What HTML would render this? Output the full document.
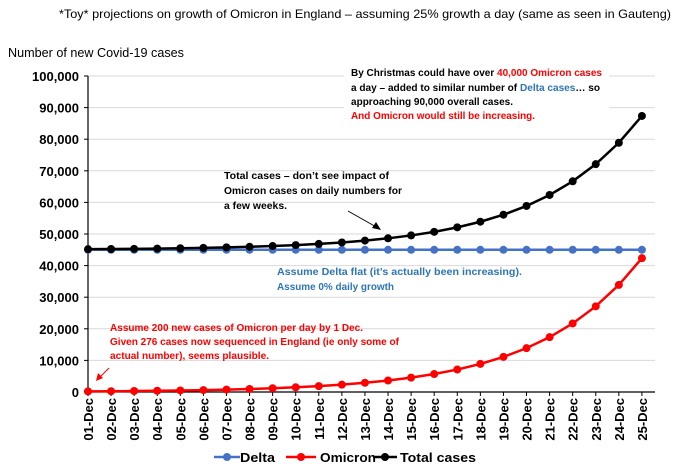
<!DOCTYPE html>
<html><head><meta charset="utf-8"><style>
body{margin:0;background:#fff;width:680px;height:473px;overflow:hidden}
svg{display:block;font-family:"Liberation Sans",sans-serif}
</style></head><body>
<svg id="s" width="680" height="473" viewBox="0 0 680 473">
<text x="59" y="18" font-size="12" textLength="612" lengthAdjust="spacingAndGlyphs" fill="#000">*Toy* projections on growth of Omicron in England – assuming 25% growth a day (same as seen in Gauteng)</text>
<text x="8" y="57" font-size="12.5" textLength="176" lengthAdjust="spacingAndGlyphs" fill="#000">Number of new Covid-19 cases</text>
<g id="grid"></g>
<g id="series"></g>
<rect x="344" y="62" width="265" height="60" fill="#fff"/>
<g font-size="10.5" font-weight="bold" lengthAdjust="spacingAndGlyphs">
<text x="351" y="76" fill="#000" textLength="251" lengthAdjust="spacingAndGlyphs">By Christmas could have over <tspan fill="#ff0000">40,000 Omicron cases</tspan></text>
<text x="351" y="91" fill="#000" textLength="249" lengthAdjust="spacingAndGlyphs">a day – added to similar number of <tspan fill="#2e75b6">Delta cases</tspan>… so</text>
<text x="351" y="105" fill="#000" textLength="162" lengthAdjust="spacingAndGlyphs">approaching  90,000 overall cases.</text>
<text x="351" y="119" fill="#ff0000" textLength="184" lengthAdjust="spacingAndGlyphs">And Omicron would still be increasing.</text>
<text x="224" y="179" fill="#000" textLength="165" lengthAdjust="spacingAndGlyphs">Total cases – don’t see impact of</text>
<text x="224" y="194" fill="#000" textLength="178" lengthAdjust="spacingAndGlyphs">Omicron cases on daily numbers for</text>
<text x="224" y="209" fill="#000" textLength="63" lengthAdjust="spacingAndGlyphs">a few weeks.</text>
<text x="277" y="275" fill="#2e75b6" textLength="245" lengthAdjust="spacingAndGlyphs">Assume Delta flat (it’s actually been increasing).</text>
<text x="277" y="290" fill="#2e75b6" textLength="117" lengthAdjust="spacingAndGlyphs">Assume 0% daily growth</text>
<text x="110" y="331" fill="#ff0000" textLength="253" lengthAdjust="spacingAndGlyphs">Assume 200 new cases of Omicron per day by 1 Dec.</text>
<text x="110" y="345" fill="#ff0000" textLength="289" lengthAdjust="spacingAndGlyphs">Given 276 cases now sequenced in England (ie only some of</text>
<text x="110" y="359" fill="#ff0000" textLength="159" lengthAdjust="spacingAndGlyphs">actual number), seems plausible.</text>
</g>
<line x1="348" y1="211" x2="378" y2="228" stroke="#000" stroke-width="1"/>
<polygon points="381,230 372,228 376,222" fill="#000"/>
<line x1="109" y1="368" x2="99" y2="378" stroke="#ff0000" stroke-width="1"/>
<polygon points="96,381 98,373 103,378" fill="#ff0000"/>
<g id="legend" font-size="13" font-weight="bold">
<line x1="214" y1="457" x2="240" y2="457" stroke="#4472c4" stroke-width="2.5"/><circle cx="227" cy="457" r="4" fill="#4472c4"/><text x="240" y="462" textLength="35" lengthAdjust="spacingAndGlyphs">Delta</text>
<line x1="286" y1="457" x2="316" y2="457" stroke="#ff0000" stroke-width="2.5"/><circle cx="301" cy="457" r="4" fill="#ff0000"/><text x="320" y="462" textLength="56" lengthAdjust="spacingAndGlyphs">Omicron</text>
<line x1="373" y1="457" x2="397" y2="457" stroke="#000" stroke-width="2.5"/><circle cx="385" cy="457" r="4" fill="#000"/><text x="400" y="462" textLength="76" lengthAdjust="spacingAndGlyphs">Total cases</text>
</g>
</svg>
<script>
var NS="http://www.w3.org/2000/svg";
function el(p,t,a,txt){var e=document.createElementNS(NS,t);for(var k in a)e.setAttribute(k,a[k]);if(txt)e.textContent=txt;p.appendChild(e);return e;}
var g=document.getElementById('grid'),s=document.getElementById('series');
var x0=88,dx=23.08,y0=392,yk=316/100000;
function X(i){return x0+i*dx}function Y(v){return y0-v*yk}
for(var v=0;v<=100000;v+=10000){var y=Y(v);
 if(v>0)el(g,'line',{x1:x0,x2:655,y1:y,y2:y,stroke:'#d9d9d9','stroke-width':1});
 el(g,'text',{x:79,y:y+5,'font-size':13,'font-weight':'bold','text-anchor':'end'},v==0?'0':v.toLocaleString('en-US'));
 el(g,'line',{x1:x0-4,x2:x0,y1:y,y2:y,stroke:'#000'});}
el(g,'line',{x1:x0,x2:x0,y1:Y(100000),y2:y0,stroke:'#000','stroke-width':1.2});
el(g,'line',{x1:x0,x2:655,y1:y0,y2:y0,stroke:'#000','stroke-width':1.2});
for(var i=0;i<25;i++){var x=X(i);el(g,'line',{x1:x,x2:x,y1:y0,y2:y0+4,stroke:'#000'});
 var lab=(i<9?'0':'')+(i+1)+'-Dec';
 el(g,'text',{x:0,y:0,'font-size':13,'font-weight':'bold','text-anchor':'end',transform:'translate('+(x+5)+','+(y0+6)+') rotate(-90)'},lab);}
var D=[],O=[],T=[];for(var i=0;i<25;i++){var o=200*Math.pow(1.25,i);D.push(45000);O.push(o);T.push(45000+o);}
function ser(a,c){var p=a.map(function(v,i){return X(i)+','+Y(v)}).join(' ');
 el(s,'polyline',{points:p,fill:'none',stroke:c,'stroke-width':2.5});
 a.forEach(function(v,i){el(s,'circle',{cx:X(i),cy:Y(v),r:4,fill:c})});}
ser(D,'#4472c4');ser(O,'#ff0000');ser(T,'#000');
</script>
</body></html>
